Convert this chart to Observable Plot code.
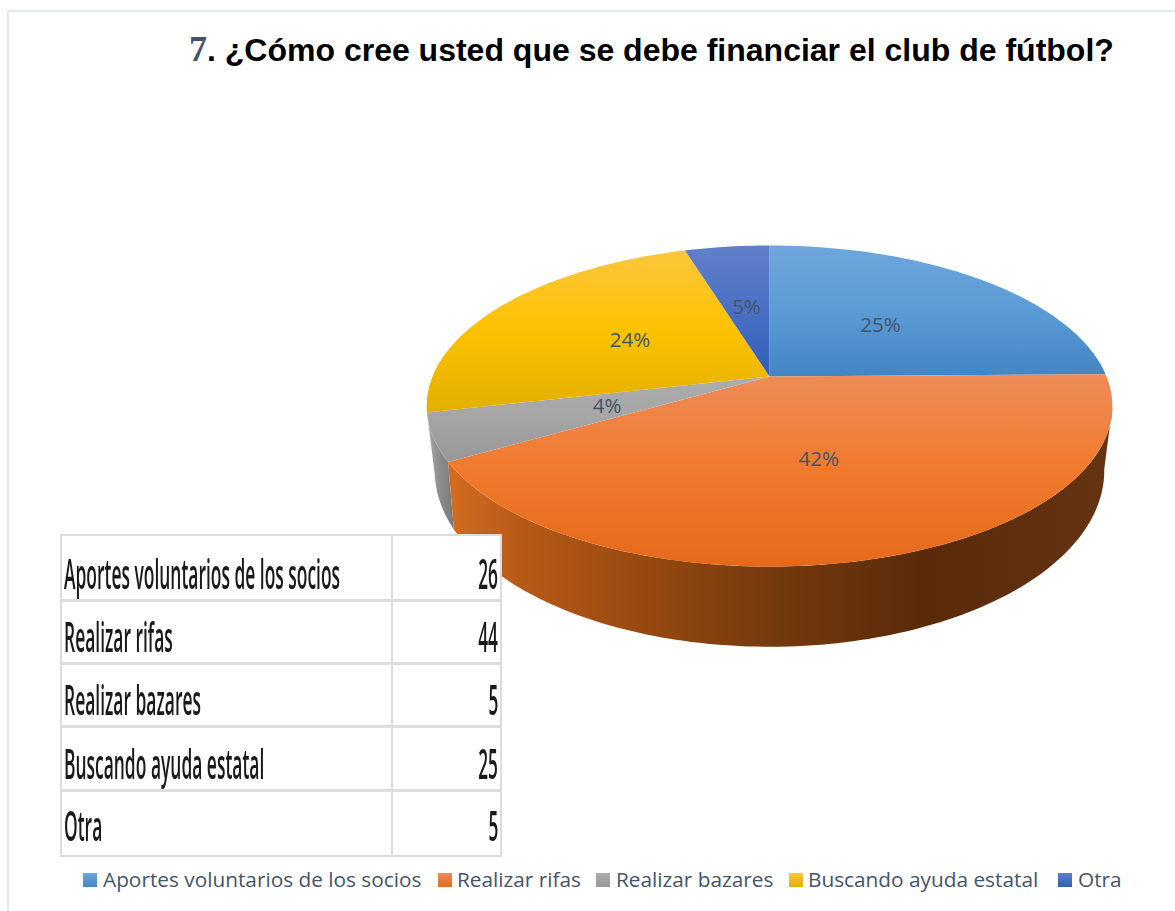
<!DOCTYPE html>
<html lang="es">
<head>
<meta charset="utf-8">
<script src="https://cdn.jsdelivr.net/npm/d3@7"></script>
<script src="https://cdn.jsdelivr.net/npm/@observablehq/plot@0.6"></script>
<style>
html,body{margin:0;padding:0;background:#fff;}
#page{position:relative;width:1175px;height:911px;overflow:hidden;}
#chart{position:absolute;left:0;top:0;}
#frame{position:absolute;left:7px;top:10px;width:1170px;height:905px;border-left:2px solid #e3e7ef;border-top:2px solid #e3e7ef;}
#title{position:absolute;left:189px;top:28px;white-space:nowrap;font:bold 32px "Liberation Sans",Arial,sans-serif;color:#000;line-height:44px;}
#title b{font:bold 36px "Liberation Serif",serif;color:#44546a;}
#table{position:absolute;left:60px;top:534px;width:442px;height:323px;box-sizing:border-box;background:#fff;border:2px solid #dcdcdc;display:grid;grid-template-columns:331px 1fr;grid-template-rows:66px 63px 63px 64px 1fr;filter:blur(.45px);}
#table div{position:relative;overflow:hidden;border-bottom:3px solid #dedede;box-sizing:border-box;color:#1a1a1a;font:600 41px/40px "Open Sans",sans-serif;}
#table div.name{border-right:2px solid #dcdcdc;}
#table div:nth-last-child(-n+2){border-bottom:0;}
#table div:nth-last-child(-n+2) span{bottom:10px;}
#table span{position:absolute;bottom:6px;white-space:nowrap;}
#table .name span{left:2px;transform-origin:left bottom;transform:scaleX(.425);}
#table .num span{right:2px;transform-origin:right bottom;transform:scaleX(.42);}
#legend span{position:absolute;top:865px;white-space:nowrap;font:20.8px/28px "Open Sans",sans-serif;color:#44546a;}
#legend i{position:absolute;top:873px;width:14px;height:14px;}
</style>
</head>
<body>
<div id="page">
  <div id="frame"></div>
  <div id="chart"></div>
  <div id="title"><b>7</b>. ¿Cómo cree usted que se debe financiar el club de fútbol?</div>
  <div id="table"></div>
  <div id="legend"></div>
</div>
<script>
// ---- data ----
const categories = ["Aportes voluntarios de los socios", "Realizar rifas", "Realizar bazares", "Buscando ayuda estatal", "Otra"];
const counts = [26, 44, 5, 25, 5];
const percentLabels = ["25%", "42%", "4%", "24%", "5%"];
const faceStops = [
  ["#6fa6dc", "#5b9bd5", "#4285c5"],
  ["#ee8c58", "#f17a2c", "#e5691a"],
  ["#adadad", "#a5a5a5", "#989898"],
  ["#fdc63c", "#fcc200", "#e2af00"],
  ["#6180c9", "#4a70c4", "#2f5eb8"]
];
const legendSwatchX = [83, 438, 596, 789, 1058];
const legendTextX = [103, 457, 616, 808, 1078];

// ---- perspective disc ----
const cx = 769;
const topFace = {y0: 376, a: 155.1, b: 337, k: -0.1838};
const baseFace = {y0: 435, a: 169, b: 328, k: -0.2};
// angle is clockwise from the far point of the disc; r is 0..1
function project(face, angle, r = 1) {
  const u = r * Math.sin(angle), w = -r * Math.cos(angle), d = 1 + face.k * w;
  return {x: cx + face.b * u / d, y: face.y0 + face.a * w / d};
}
function rimPoints(face, from, to) {
  const n = Math.max(2, Math.ceil((to - from) / 0.02));
  return d3.range(n + 1).map(i => project(face, from + (to - from) * i / n));
}

const pie = d3.pie().sort(null).startAngle(0).endAngle(2 * Math.PI)(counts);
const rows = categories.map((name, i) => ({
  name, count: counts[i], label: percentLabels[i],
  start: pie[i].startAngle, end: pie[i].endAngle
}));

function facePolygon(s) {
  const c = project(topFace, 0, 0);
  return [c, ...rimPoints(topFace, s.start, s.end), c];
}
// the visible wall reaches from the right-hand silhouette of the disc to its left-hand one
const silhouetteRight = 101 * Math.PI / 180;
function wallPolygon(from, to) {
  const top = rimPoints(topFace, from, to), base = rimPoints(baseFace, from, to).reverse();
  return [...top, ...base, top[0]];
}

function defs() {
  const d = d3.create("svg:defs");
  faceStops.forEach((stops, i) => {
    const g = d.append("linearGradient").attr("id", "face" + i).attr("x1", 0).attr("y1", 0).attr("x2", 0).attr("y2", 1);
    stops.forEach((c, j) => g.append("stop").attr("offset", j / 2).attr("stop-color", c));
  });
  const wallO = d.append("linearGradient").attr("id", "wallOrange");
  [[0, "#d56c20"], [.1, "#b95b19"], [.3, "#96490f"], [.5, "#73390e"], [.72, "#5a2a09"], [1, "#663313"]]
    .forEach(([o, c]) => wallO.append("stop").attr("offset", o).attr("stop-color", c));
  const wallG = d.append("linearGradient").attr("id", "wallGray");
  [[0, "#a8a8a8"], [.5, "#8c8c8c"], [1, "#777777"]]
    .forEach(([o, c]) => wallG.append("stop").attr("offset", o).attr("stop-color", c));
  return d.node();
}

const poly = (points, fill) => Plot.line(points, {x: "x", y: "y", fill, stroke: "none", curve: "linear"});

const chart = Plot.plot({
  width: 1175, height: 911,
  margin: 0,
  x: {domain: [0, 1175], range: [0, 1175], axis: null},
  y: {domain: [0, 911], range: [0, 911], axis: null},
  marks: [
    defs,
    poly(wallPolygon(rows[2].start, rows[2].end), "url(#wallGray)"),
    poly(wallPolygon(silhouetteRight, rows[1].end), "url(#wallOrange)"),
    ...rows.map((s, i) => poly(facePolygon(s), `url(#face${i})`)),
    Plot.text(rows, {
      x: s => project(topFace, (s.start + s.end) / 2, 0.5).x,
      y: s => project(topFace, (s.start + s.end) / 2, 0.5).y,
      dy: 1,
      text: "label",
      fontFamily: "Open Sans, sans-serif",
      fontSize: 20.5,
      fill: "#44546a"
    })
  ]
});
document.getElementById("chart").append(chart);

// ---- data table ----
const table = d3.select("#table");
rows.forEach(r => {
  table.append("div").attr("class", "name").append("span").text(r.name);
  table.append("div").attr("class", "num").append("span").text(r.count);
});

// ---- legend ----
const legend = d3.select("#legend");
categories.forEach((name, i) => {
  legend.append("i").style("left", legendSwatchX[i] + "px")
    .style("background", `linear-gradient(${faceStops[i][0]},${faceStops[i][2]})`);
  legend.append("span").style("left", legendTextX[i] + "px").text(name);
});
</script>
</body>
</html>
